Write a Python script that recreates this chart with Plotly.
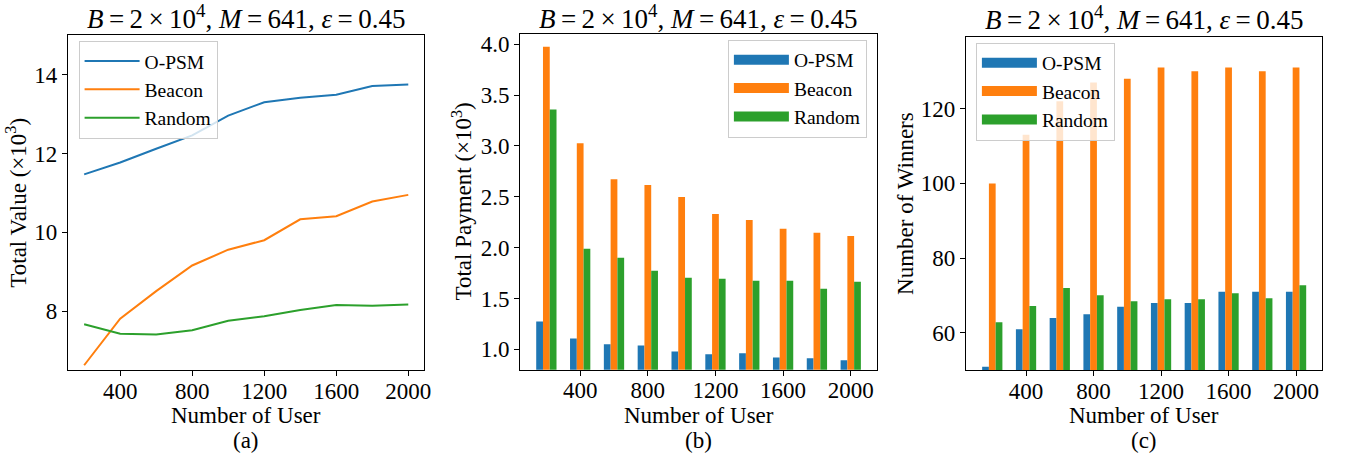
import plotly.graph_objects as go

W, H = 1347, 456

users = [200, 400, 600, 800, 1000, 1200, 1400, 1600, 1800, 2000]
series_names = ["O-PSM", "Beacon", "Random"]
colors = ["#1f77b4", "#ff7f0e", "#2ca02c"]

# (a) Total value (x10^3)
value_opsm = [11.47, 11.77, 12.12, 12.46, 12.96, 13.30, 13.41, 13.49, 13.71, 13.75]
value_beacon = [6.63, 7.81, 8.51, 9.16, 9.56, 9.80, 10.33, 10.41, 10.78, 10.95]
value_random = [7.67, 7.43, 7.41, 7.52, 7.76, 7.87, 8.03, 8.16, 8.14, 8.17]

# (b) Total payment (x10^3)
pay_opsm = [1.274, 1.107, 1.049, 1.039, 0.98, 0.951, 0.961, 0.921, 0.912, 0.892]
pay_beacon = [3.977, 3.027, 2.674, 2.616, 2.498, 2.332, 2.273, 2.185, 2.146, 2.116]
pay_random = [3.36, 1.989, 1.901, 1.773, 1.705, 1.695, 1.675, 1.675, 1.597, 1.666]

# (c) Number of winners
win_opsm = [51, 61, 64, 65, 67, 68, 68, 71, 71, 71]
win_beacon = [100, 113, 122, 127, 128, 131, 130, 131, 130, 131]
win_random = [62.9, 67.2, 72.0, 70.1, 68.5, 69.0, 69.0, 70.6, 69.3, 72.8]

xticks = [400, 800, 1200, 1600, 2000]
TS = "\u2009"
title_text = ("<i>B</i>" + TS + "=" + TS + "2" + TS + "×" + TS + "10<sup>4</sup>, "
              "<i>M</i>" + TS + "=" + TS + "641, <i>ε</i>" + TS + "=" + TS + "0.45")
captions = ["(a)", "(b)", "(c)"]
ylabels = ["Total Value (×10<sup>3</sup>)", "Total Payment (×10<sup>3</sup>)", "Number of Winners"]
xlabel = "Number of User"

FONT = "Liberation Serif"

# panel pixel boxes: left, right, top, bottom
boxes = [(68.3, 426.7, 33.3, 370.0), (522.7, 881.7, 32.3, 369.3), (971.0, 1329.3, 35.0, 370.0)]
ylabel_x = [17, 465, 910]

def px(x):
    return x / W

def py(y):
    return 1 - y / H

fig = go.Figure()

# panel (a) lines
for name, vals, col in zip(series_names, [value_opsm, value_beacon, value_random], colors):
    fig.add_trace(go.Scatter(x=users, y=vals, mode="lines", name=name,
                             line=dict(color=col, width=2), xaxis="x", yaxis="y",
                             legend="legend"))

# panel (b) bars
for name, vals, col in zip(series_names, [pay_opsm, pay_beacon, pay_random], colors):
    fig.add_trace(go.Bar(x=users, y=vals, name=name, marker=dict(color=col, line=dict(width=0)),
                         xaxis="x2", yaxis="y2", showlegend=False, offsetgroup=name))
    fig.add_trace(go.Scatter(x=[None], y=[None], mode="lines", name=name,
                             line=dict(color=col, width=14), xaxis="x2", yaxis="y2",
                             legend="legend2"))

# panel (c) bars
for name, vals, col in zip(series_names, [win_opsm, win_beacon, win_random], colors):
    fig.add_trace(go.Bar(x=users, y=vals, name=name, marker=dict(color=col, line=dict(width=0)),
                         xaxis="x3", yaxis="y3", showlegend=False, offsetgroup=name))
    fig.add_trace(go.Scatter(x=[None], y=[None], mode="lines", name=name,
                             line=dict(color=col, width=14), xaxis="x3", yaxis="y3",
                             legend="legend3"))

axis_common = dict(showline=True, linecolor="black", linewidth=1, mirror=True,
                   ticks="outside", ticklen=5, tickwidth=1, tickcolor="black",
                   showgrid=False, zeroline=False,
                   tickfont=dict(family=FONT, size=23, color="black"))

yranges = [[6.5, 15.0], [0.8, 4.1], [50.0, 139.2]]
yticks = [[8, 10, 12, 14], [1.0, 1.5, 2.0, 2.5, 3.0, 3.5, 4.0], [60, 80, 100, 120]]
ytickfmt = [None, ".1f", None]
xranges = [[110, 2090], [44, 2156], [44, 2156]]

layout = dict(width=W, height=H, margin=dict(l=0, r=0, t=0, b=0),
              paper_bgcolor="white", plot_bgcolor="white",
              barmode="group", bargap=0.4, bargroupgap=0.0,
              font=dict(family=FONT, color="black"))

for i in range(3):
    l, r, t, b = boxes[i]
    sx = "" if i == 0 else str(i + 1)
    xa = dict(axis_common, domain=[px(l), px(r)], range=xranges[i],
              tickvals=xticks, anchor="y" + sx)
    ya = dict(axis_common, domain=[py(b), py(t)], range=yranges[i],
              tickvals=yticks[i], anchor="x" + sx)
    if ytickfmt[i]:
        ya["tickformat"] = ytickfmt[i]
    layout["xaxis" + sx] = xa
    layout["yaxis" + sx] = ya

legend_common = dict(bgcolor="rgba(255,255,255,0.8)", bordercolor="#cccccc", borderwidth=1,
                     font=dict(family=FONT, size=19.5, color="black"), itemwidth=55,
                     xanchor="left", yanchor="top", tracegroupgap=0)
layout["legend"] = dict(legend_common, x=px(79), y=py(39))
layout["legend2"] = dict(legend_common, x=px(731.7), y=py(37.7))
layout["legend3"] = dict(legend_common, x=px(981), y=py(40.7))

fig.update_layout(**layout)

try:
    fig.update_xaxes(ticklabelstandoff=-5)
except Exception:
    pass

annotations = []
for i in range(3):
    l, r, t, b = boxes[i]
    cx = px((l + r) / 2)
    annotations.append(dict(text=title_text, x=cx, y=py(max(t - 0.5, 33.5)), xref="paper",
                            yref="paper", xanchor="center", yanchor="bottom", showarrow=False,
                            borderpad=0, font=dict(family=FONT, size=27, color="black")))
    annotations.append(dict(text=xlabel, x=cx, y=py(415), xref="paper", yref="paper",
                            xanchor="center", yanchor="middle", showarrow=False,
                            font=dict(family=FONT, size=23, color="black")))
    annotations.append(dict(text=captions[i], x=cx, y=py(440), xref="paper", yref="paper",
                            xanchor="center", yanchor="middle", showarrow=False,
                            font=dict(family=FONT, size=23, color="black")))
    annotations.append(dict(text=ylabels[i], x=px(ylabel_x[i]), y=py((t + b) / 2),
                            xref="paper", yref="paper", textangle=-90,
                            xanchor="center", yanchor="middle", showarrow=False,
                            font=dict(family=FONT, size=23, color="black")))
fig.update_layout(annotations=annotations)

fig.write_html("out.html")
